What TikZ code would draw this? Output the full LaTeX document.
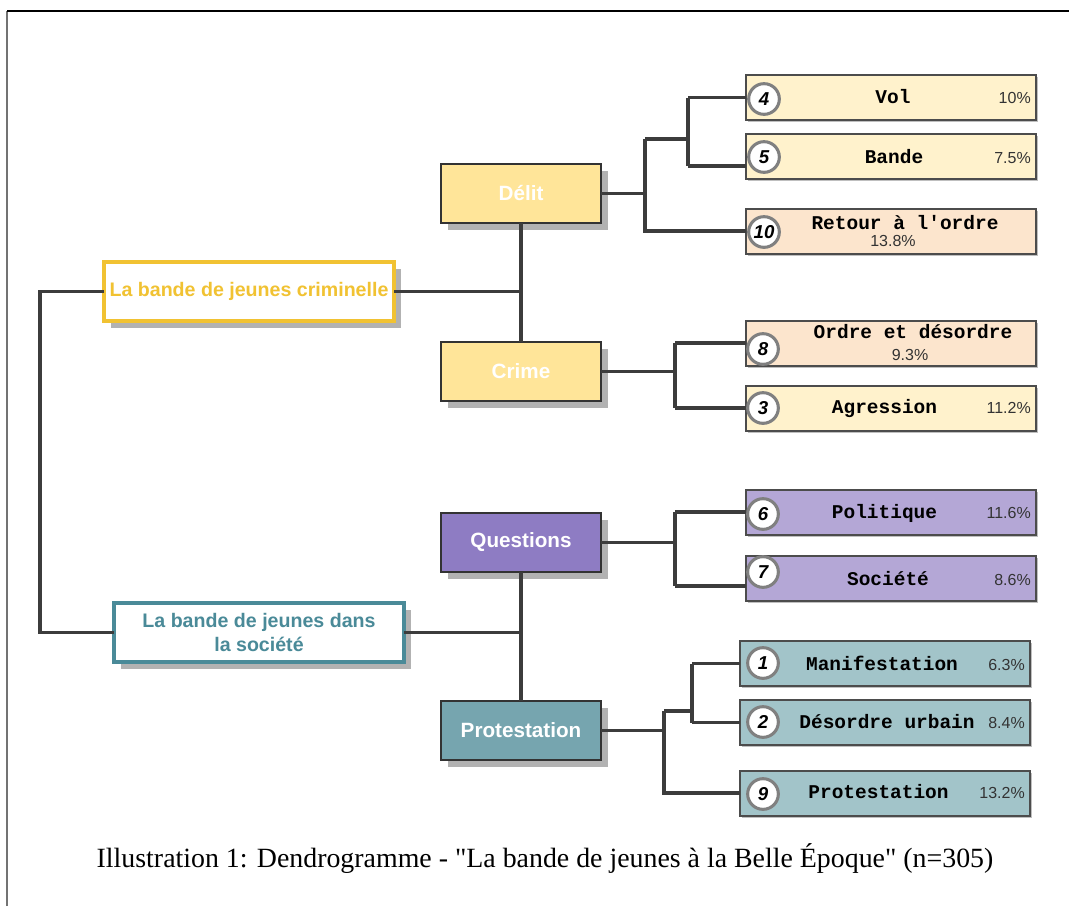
\documentclass[tikz,border=0pt]{standalone}
\usepackage{fontspec}
\setmainfont{Liberation Serif}[Ligatures=TeXOff]
\setsansfont{Liberation Sans}
\setmonofont{Liberation Mono}
\usetikzlibrary{shadows}
\definecolor{linec}{HTML}{3C3C3C}
\definecolor{gold}{HTML}{F1C232}
\definecolor{tealb}{HTML}{4A8A98}
\definecolor{delitf}{HTML}{FFE599}
\definecolor{questf}{HTML}{8E7CC3}
\definecolor{protf}{HTML}{76A5AF}
\definecolor{leafy}{HTML}{FFF2CC}
\definecolor{leafp}{HTML}{FCE5CD}
\definecolor{leafl}{HTML}{B4A7D6}
\definecolor{leaft}{HTML}{A2C4C9}
\definecolor{boxb}{HTML}{333333}
\begin{document}
\begin{tikzpicture}[x=0.75pt,y=-0.75pt,
  conn/.style={draw=linec, line width=2.4pt},
  rootbox/.style={draw, fill=white, line width=2.4pt, minimum width=217.5pt, minimum height=44.25pt,
    anchor=north west, inner sep=0pt, outer sep=0pt, align=center, font=\sffamily\bfseries\fontsize{14.7}{17.5}\selectfont,
    drop shadow={shadow xshift=5pt, shadow yshift=-5.5pt, fill=black!30, opacity=1}},
  midbox/.style={draw=boxb, line width=1.5pt, minimum width=120pt, minimum height=44.25pt,
    anchor=north west, inner sep=0pt, outer sep=0pt, text=white, font=\sffamily\bfseries\fontsize{15.5}{18}\selectfont,
    drop shadow={shadow xshift=5pt, shadow yshift=-5.5pt, fill=black!30, opacity=1}},
  leafbox/.style={draw=black!70, line width=1.2pt, minimum width=217.5pt, minimum height=33.75pt,
    anchor=north west, inner sep=0pt, outer sep=0pt,
    drop shadow={shadow xshift=1.2pt, shadow yshift=-1.2pt, fill=black!25, opacity=1}},
  lbl/.style={anchor=base, inner sep=0pt, font=\ttfamily\bfseries\fontsize{14.6}{16}\selectfont},
  pct/.style={anchor=base east, inner sep=0pt, text=black!80, font=\sffamily\fontsize{12}{14}\selectfont},
  pctc/.style={anchor=base, inner sep=0pt, text=black!80, font=\sffamily\fontsize{12}{14}\selectfont},
  num/.style={circle, draw=black!50, line width=2.3pt, fill=white, minimum size=23pt, inner sep=0pt,
    font=\sffamily\bfseries\itshape\fontsize{14}{16}\selectfont}
]
\useasboundingbox (0,0) rectangle (1069,906);
\fill[white] (0,0) rectangle (1069,906);
% frame
\coordinate (fbl) at (7,906);
\coordinate (ftl) at (7,11);
\coordinate (ftr) at (1069,11);
\draw[black!55, line width=1.5pt] (fbl) -- (ftl);
\draw[black, line width=1.5pt] (ftl) -- (ftr);

% level 0
\node[rootbox, draw=gold, text=gold] (crim) at (104,262) {La bande de jeunes criminelle};
\node[rootbox, draw=tealb, text=tealb] (soc) at (114,603) {La bande de jeunes dans\\la société};

% level 1
\node[midbox, fill=delitf] (delit) at (441,164) {Délit};
\node[midbox, fill=delitf] (crime) at (441,342) {Crime};
\node[midbox, fill=questf] (quest) at (441,513) {Questions};
\node[midbox, fill=protf] (prot) at (441,701) {Protestation};

% leaves
\node[leafbox, fill=leafy] (l4) at (746,75) {};
\node[leafbox, fill=leafy] (l5) at (746,134) {};
\node[leafbox, fill=leafp] (l10) at (746,209) {};
\node[leafbox, fill=leafp] (l8) at (746,321) {};
\node[leafbox, fill=leafy] (l3) at (746,386) {};
\node[leafbox, fill=leafl] (l6) at (746,490) {};
\node[leafbox, fill=leafl] (l7) at (746,556) {};
\node[leafbox, fill=leaft] (l1) at (740,641) {};
\node[leafbox, fill=leaft] (l2) at (740,700) {};
\node[leafbox, fill=leaft] (l9) at (740,771) {};

% junction coordinates
\coordinate (r1) at (40,291.5);
\coordinate (jc) at (521,291.5);
\coordinate (js) at (521,632.5);
\coordinate (jd) at (645,193.5);
\coordinate (jdt) at (645,139);
\coordinate (jdb) at (645,231);
\coordinate (jdi) at (688,139);
\coordinate (jdit) at (688,97.5);
\coordinate (jdib) at (688,166);
\coordinate (jcr) at (675,371.5);
\coordinate (jcrt) at (675,343);
\coordinate (jcrb) at (675,408);
\coordinate (jq) at (675,542.5);
\coordinate (jqt) at (675,512);
\coordinate (jqb) at (675,586);
\coordinate (jp) at (664,730.5);
\coordinate (jpt) at (664,711);
\coordinate (jpb) at (664,793);
\coordinate (jpi) at (692,711);
\coordinate (jpit) at (692,663.5);
\coordinate (jpib) at (692,722.5);

% connectors
\draw[conn] (crim.west) -- (r1) |- (soc.west);
\draw[conn] (crim.east) -- (crim.east -| jc);
\draw[conn] (soc.east) -- (soc.east -| js);
\draw[conn] (delit.south) -- (crime.north);
\draw[conn] (quest.south) -- (prot.north);
\draw[conn] (delit.east) -- (delit.east -| jd);
\draw[conn] (jdt) -- (jdb) -- (jdb -| l10.west);
\draw[conn] (jdt) -- (jdi);
\draw[conn] (jdit) -- (jdib);
\draw[conn] (jdit) -- (jdit -| l4.west);
\draw[conn] (jdib) -- (jdib -| l5.west);
\draw[conn] (crime.east) -- (crime.east -| jcr);
\draw[conn] (jcrt) -- (jcrb);
\draw[conn] (jcrt) -- (jcrt -| l8.west);
\draw[conn] (jcrb) -- (jcrb -| l3.west);
\draw[conn] (quest.east) -- (quest.east -| jq);
\draw[conn] (jqt) -- (jqb);
\draw[conn] (jqt) -- (jqt -| l6.west);
\draw[conn] (jqb) -- (jqb -| l7.west);
\draw[conn] (prot.east) -- (prot.east -| jp);
\draw[conn] (jpt) -- (jpb) -- (jpb -| l9.west);
\draw[conn] (jpt) -- (jpi);
\draw[conn] (jpit) -- (jpib);
\draw[conn] (jpit) -- (jpit -| l1.west);
\draw[conn] (jpib) -- (jpib -| l2.west);

% number circles
\node[num] (c4) at (764,99) {4};
\node[num] (c5) at (764,157) {5};
\node[num] (c10) at (764,232) {10};
\node[num] (c8) at (763,349) {8};
\node[num] (c3) at (763,408) {3};
\node[num] (c6) at (763,514) {6};
\node[num] (c7) at (763,572) {7};
\node[num] (c1) at (763,663) {1};
\node[num] (c2) at (763,722) {2};
\node[num] (c9) at (763,794) {9};

% leaf texts
\node[lbl] (t4) at (893,103) {Vol};
\node[pct] (p4) at (1031,103) {10\%};
\node[lbl] (t5) at (894,163) {Bande};
\node[pct] (p5) at (1031,163) {7.5\%};
\node[lbl] (t10) at (905,229) {Retour à l'ordre};
\node[pctc] (p10) at (893,246) {13.8\%};
\node[lbl] (t8) at (913,338) {Ordre et désordre};
\node[pctc] (p8) at (910,360) {9.3\%};
\node[lbl] (t3) at (884.5,413) {Agression};
\node[pct] (p3) at (1031,413) {11.2\%};
\node[lbl] (t6) at (884.5,518) {Politique};
\node[pct] (p6) at (1031,518) {11.6\%};
\node[lbl] (t7) at (888,585) {Société};
\node[pct] (p7) at (1031,585) {8.6\%};
\node[lbl] (t1) at (882,670) {Manifestation};
\node[pct] (p1) at (1025,670) {6.3\%};
\node[lbl] (t2) at (887,728) {Désordre urbain};
\node[pct] (p2) at (1025,728) {8.4\%};
\node[lbl] (t9) at (878.5,798) {Protestation};
\node[pct] (p9) at (1025,798) {13.2\%};

% caption
\node[anchor=base, inner sep=0pt, font=\fontsize{20.9}{25}\selectfont] (cap) at (545,867)
  {Illustration 1: Dendrogramme - "La bande de jeunes à la Belle Époque" (n=305)};
\end{tikzpicture}
\end{document}
